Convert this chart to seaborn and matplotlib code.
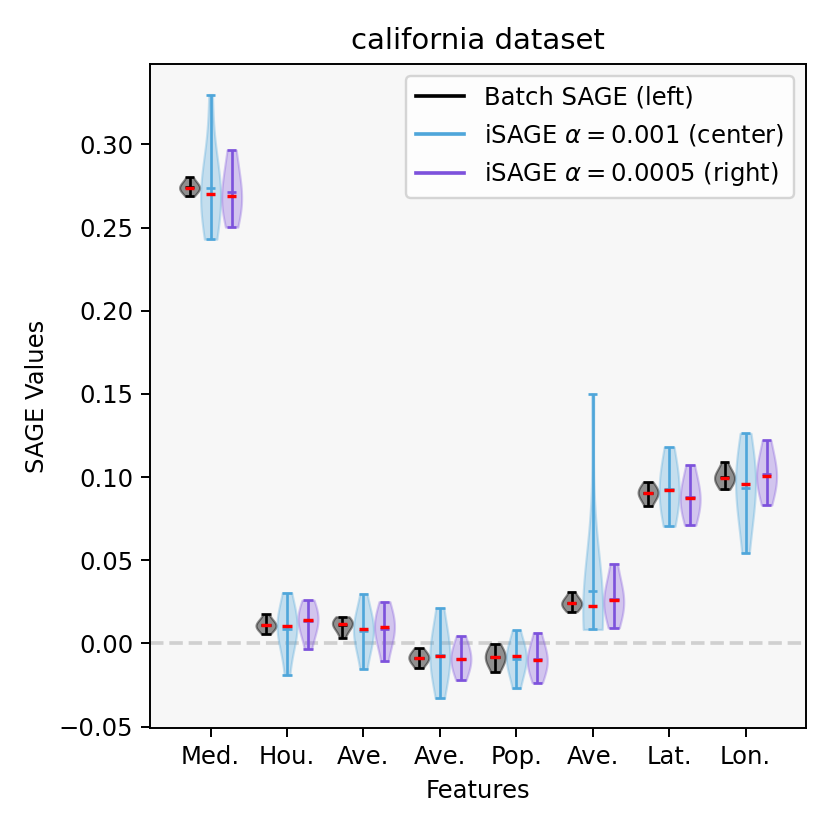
import numpy as np
import pandas as pd
import matplotlib
matplotlib.use("Agg")
import matplotlib.pyplot as plt
import seaborn as sns
from matplotlib.lines import Line2D
from matplotlib.colors import to_rgb

feature_labels = ["Med.", "Hou.", "Ave.", "Ave.", "Pop.", "Ave.", "Lat.", "Lon."]
methods = ["Batch SAGE (left)",
           r"iSAGE $\alpha = 0.001$ (center)",
           r"iSAGE $\alpha = 0.0005$ (right)"]
method_colors = ["#000000", "#4fa6da", "#7d52dc"]

# SAGE value samples per feature
batch_sage = [
    [0.2688, 0.2715, 0.2728, 0.2735, 0.274, 0.2745, 0.2755, 0.2775, 0.2802],
    [0.0058, 0.0085, 0.0095, 0.0102, 0.0108, 0.0114, 0.0122, 0.0140, 0.0174],
    [0.0034, 0.0075, 0.0098, 0.0110, 0.0118, 0.0125, 0.0132, 0.0145, 0.0160],
    [-0.0146, -0.0118, -0.0104, -0.0094, -0.0086, -0.0078, -0.0068, -0.0052, -0.0030],
    [-0.0172, -0.0135, -0.0112, -0.0095, -0.0082, -0.0070, -0.0055, -0.0035, -0.0002],
    [0.0191, 0.0212, 0.0225, 0.0234, 0.0240, 0.0247, 0.0258, 0.0275, 0.0309],
    [0.0826, 0.0862, 0.0882, 0.0896, 0.0906, 0.0915, 0.0925, 0.0940, 0.0970],
    [0.0926, 0.0955, 0.0975, 0.0988, 0.0996, 0.1005, 0.1018, 0.1040, 0.1090],
]
isage_001 = [
    [0.243, 0.256, 0.262, 0.267, 0.2704, 0.274, 0.278, 0.286, 0.330],
    [-0.0192, -0.002, 0.004, 0.008, 0.0102, 0.012, 0.015, 0.0191, 0.0305],
    [-0.0152, -0.004, 0.002, 0.006, 0.0088, 0.011, 0.012, 0.016, 0.0299],
    [-0.0329, -0.021, -0.015, -0.011, -0.0074, -0.004, 0.001, 0.008, 0.0212],
    [-0.0271, -0.019, -0.0145, -0.011, -0.0078, -0.0065, -0.005, -0.002, 0.0078],
    [0.0084, 0.011, 0.014, 0.017, 0.020, 0.0224, 0.023, 0.024, 0.026, 0.028, 0.150],
    [0.0704, 0.077, 0.083, 0.088, 0.0924, 0.097, 0.102, 0.109, 0.118],
    [0.0545, 0.073, 0.083, 0.090, 0.0958, 0.101, 0.106, 0.113, 0.1263],
]
isage_0005 = [
    [0.2503, 0.258, 0.262, 0.266, 0.269, 0.273, 0.279, 0.290, 0.2966],
    [-0.0036, 0.005, 0.009, 0.012, 0.0138, 0.016, 0.019, 0.022, 0.026],
    [-0.0108, -0.001, 0.004, 0.007, 0.0096, 0.012, 0.015, 0.019, 0.0251],
    [-0.0222, -0.017, -0.014, -0.0115, -0.0092, -0.007, -0.0045, -0.001, 0.0044],
    [-0.0236, -0.018, -0.0145, -0.012, -0.0102, -0.008, -0.005, -0.001, 0.0064],
    [0.0094, 0.016, 0.020, 0.023, 0.0259, 0.028, 0.032, 0.038, 0.048],
    [0.0711, 0.077, 0.081, 0.0845, 0.0874, 0.090, 0.094, 0.0995, 0.1072],
    [0.0832, 0.091, 0.095, 0.098, 0.1008, 0.104, 0.108, 0.114, 0.122],
]


def build_frame():
    rows = []
    for method, samples in zip(methods, [batch_sage, isage_001, isage_0005]):
        for i, vals in enumerate(samples):
            for v in vals:
                rows.append({"feature": i, "method": method, "value": v})
    return pd.DataFrame(rows)


df = build_frame()
plt.rcParams["font.family"] = ["DejaVu Sans"]

dpi = 175
fig, ax = plt.subplots(figsize=(830 / dpi, 830 / dpi), dpi=dpi)
fig.subplots_adjust(left=0.181, right=0.971, top=0.923, bottom=0.123)
ax.set_facecolor("#f7f7f7")
ax.axhline(0, color="#d0d0d0", ls="--", lw=1.5, zorder=0)

slot = 0.275
sns.violinplot(data=df, x="feature", y="value", hue="method", hue_order=methods,
               palette=method_colors, saturation=1, cut=0, inner=None,
               density_norm="width", width=3 * slot, gap=0.05, linewidth=0.9,
               bw_adjust=1.4, legend=False, ax=ax)

# restyle violin bodies: translucent fill, matching edge
rgbs = np.array([to_rgb(c) for c in method_colors])
for coll in ax.collections:
    fc = coll.get_facecolor()
    if len(fc) == 0:
        continue
    j = int(np.argmin(((rgbs - np.array(fc[0][:3])) ** 2).sum(axis=1)))
    alpha = 0.42 if j == 0 else 0.3
    coll.set_facecolor(method_colors[j])
    coll.set_edgecolor(method_colors[j])
    coll.set_alpha(alpha)

# extrema, mean and median bars
stats = df.groupby(["feature", "method"])["value"].agg(["min", "max", "mean", "median"])
offsets = (np.arange(3) - 1) * slot
half = 0.0625
for (feat, method), row in stats.iterrows():
    j = methods.index(method)
    x = feat + offsets[j]
    c = method_colors[j]
    ax.vlines(x, row["min"], row["max"], color=c, lw=1.1, zorder=3)
    ax.hlines([row["min"], row["max"], row["mean"]], x - half, x + half,
              color=c, lw=1.1, zorder=3)
    ax.hlines(row["median"], x - half, x + half, color="red", lw=1.4, zorder=4)

ax.set_xticks(range(len(feature_labels)))
ax.set_xticklabels(feature_labels)
ax.set_xlim(-0.79, 7.79)
ax.set_ylim(-0.0508, 0.3484)
ax.set_xlabel("Features")
ax.set_ylabel("SAGE Values")
ax.set_title("california dataset")

handles = [Line2D([0], [0], color=c, lw=1.5) for c in method_colors]
ax.legend(handles, methods, loc="upper right")

plt.savefig("out.png", dpi=dpi)
